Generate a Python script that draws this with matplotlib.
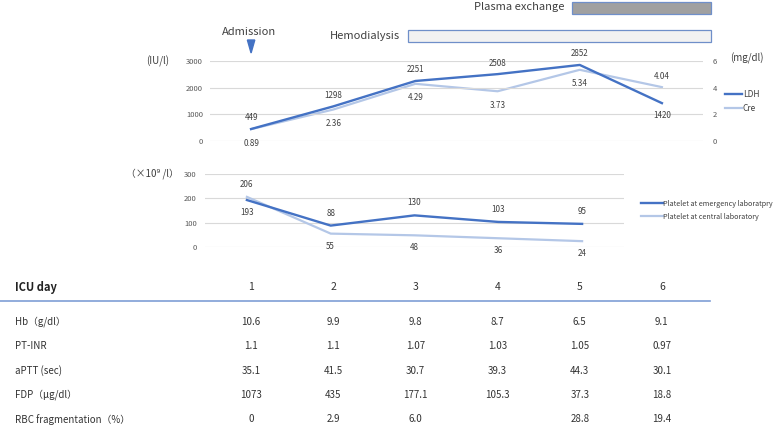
import matplotlib
matplotlib.use('Agg')
import matplotlib.pyplot as plt
import matplotlib.transforms as mtransforms
from matplotlib.patches import Rectangle, Polygon
from matplotlib.lines import Line2D

plt.rcParams['font.family'] = ['Noto Sans CJK JP', 'DejaVu Sans']

# Datos del curso clínico
days = [1, 2, 3, 4, 5, 6]
ldh = [449, 1298, 2251, 2508, 2852, 1420]
cre = [0.89, 2.36, 4.29, 3.73, 5.34, 4.04]

plt_days = [1, 2, 3, 4, 5]
plt_emergency = [193, 88, 130, 103, 95]
plt_central = [206, 55, 48, 36, 24]

admission_day = 1
hemodialysis_start = 3
plasma_start = 5

row_names = ['Hb（g/dl）', 'PT-INR', 'aPTT (sec)', 'FDP（μg/dl）', 'RBC fragmentation（%）']
hb = ['10.6', '9.9', '9.8', '8.7', '6.5', '9.1']
pt_inr = ['1.1', '1.1', '1.07', '1.03', '1.05', '0.97']
aptt = ['35.1', '41.5', '30.7', '39.3', '44.3', '30.1']
fdp = ['1073', '435', '177.1', '105.3', '37.3', '18.8']
rbc_frag = ['0', '2.9', '6.0', '', '28.8', '19.4']
table_rows = [hb, pt_inr, aptt, fdp, rbc_frag]

DARK = '#4472C4'
LIGHT = '#B4C7E7'
GRID = '#D9D9D9'
TICK = '#595959'
TXT = '#404040'

W, H = 778, 425
fig = plt.figure(figsize=(W / 100, H / 100), dpi=100)

def fx(px):
    return px / W

def fy(px):
    return 1 - px / H

def style_axis(a):
    for s in a.spines.values():
        s.set_visible(False)
    a.tick_params(length=0, labelsize=5.5, labelcolor=TICK)

# ---- Grafico superior: LDH y Cre ----
ax = fig.add_axes([fx(210), fy(141), fx(493), (141 - 61) / H])
ax2 = ax.twinx()
ax.set_xlim(0.5, 6.5)
ax.set_ylim(0, 3000)
ax.set_yticks([0, 1000, 2000, 3000])
ax2.set_ylim(0, 6)
ax2.set_yticks([0, 2, 4, 6])
ax.set_xticks([])
ax.yaxis.grid(True, color=GRID, lw=0.8)
ax.set_axisbelow(True)
style_axis(ax)
style_axis(ax2)
ax.tick_params(axis='y', pad=5)
ax2.tick_params(axis='y', pad=7)

ax2.plot(days, cre, color=LIGHT, lw=1.6, label='Cre')
l1, = ax.plot(days, ldh, color=DARK, lw=1.7, label='LDH')
ax.set_zorder(ax2.get_zorder() + 1)
ax.patch.set_visible(False)

for i, (d, v) in enumerate(zip(days, ldh)):
    off = -9 if i == len(days) - 1 else 8
    ax.annotate(str(v), (d, v), xytext=(0, off), textcoords='offset points',
                ha='center', va='center', fontsize=5.8, color=TXT)
for i, (d, v) in enumerate(zip(days, cre)):
    off = 8 if i == len(days) - 1 else -10
    ax2.annotate('%.2f' % v, (d, v), xytext=(0, off), textcoords='offset points',
                 ha='center', va='center', fontsize=5.8, color=TXT)

fig.text(fx(158), fy(61), '(IU/l)', ha='center', va='center', fontsize=7, color=TXT)
fig.text(fx(730), fy(58), '(mg/dl)', ha='left', va='center', fontsize=7, color=TXT)

h2 = Line2D([], [], color=LIGHT, lw=1.6)
fig.legend([l1, h2], ['LDH', 'Cre'], loc='upper left', bbox_to_anchor=(fx(722), fy(87)),
           frameon=False, fontsize=6, handlelength=2.0, handletextpad=0.1,
           labelspacing=0.55, borderaxespad=0, labelcolor=TXT)

# ---- Admision y tratamientos ----
tr = mtransforms.blended_transform_factory(ax.transData, fig.transFigure)
tri = Polygon([(admission_day - 0.045, fy(40)), (admission_day + 0.045, fy(40)),
               (admission_day, fy(53))], closed=True, color=DARK,
              transform=tr, clip_on=False)
ax.add_patch(tri)
ax.text(admission_day - 0.03, fy(32), 'Admission', transform=tr, ha='center',
        va='center', fontsize=8, color=TXT)

bar_end = 6.6
hd = Rectangle((hemodialysis_start - 0.09, fy(42)), bar_end - (hemodialysis_start - 0.09),
               12 / H, facecolor='#F2F2F2', edgecolor='#6F8FC9', lw=0.9,
               transform=tr, clip_on=False)
ax.add_patch(hd)
ax.text(hemodialysis_start - 0.19, fy(36), 'Hemodialysis', transform=tr, ha='right',
        va='center', fontsize=8, color=TXT)
pe = Rectangle((plasma_start - 0.09, fy(14)), bar_end - (plasma_start - 0.09),
               12 / H, facecolor='#A0A0A0', edgecolor='#6F8FC9', lw=0.9,
               transform=tr, clip_on=False)
ax.add_patch(pe)
ax.text(plasma_start - 0.19, fy(7), 'Plasma exchange', transform=tr, ha='right',
        va='center', fontsize=8, color=TXT)

# ---- Grafico inferior: plaquetas ----
bx = fig.add_axes([fx(205), fy(247), fx(419), (247 - 174) / H])
bx.set_xlim(0.5, 5.5)
bx.set_ylim(0, 300)
bx.set_yticks([0, 100, 200, 300])
bx.set_xticks([])
bx.yaxis.grid(True, color=GRID, lw=0.8)
bx.set_axisbelow(True)
style_axis(bx)
bx.tick_params(axis='y', pad=6)

bx.plot(plt_days, plt_central, color=LIGHT, lw=1.6, label='Platelet at central laboratory')
bx.plot(plt_days, plt_emergency, color=DARK, lw=1.7, label='Platelet at emergency laboratpry')

for i, d in enumerate(plt_days):
    e, c = plt_emergency[i], plt_central[i]
    if i == 0:
        eo, co = -9, 9
    else:
        eo, co = 9, -9
    bx.annotate(str(e), (d, e), xytext=(0, eo), textcoords='offset points',
                ha='center', va='center', fontsize=5.8, color=TXT)
    bx.annotate(str(c), (d, c), xytext=(0, co), textcoords='offset points',
                ha='center', va='center', fontsize=5.8, color=TXT)

fig.text(fx(152), fy(174), '（×10⁹ /l）', ha='center', va='center', fontsize=7, color=TXT)

hs, ls = bx.get_legend_handles_labels()
fig.legend(hs[::-1], ls[::-1], loc='upper left', bbox_to_anchor=(fx(638), fy(197)),
           frameon=False, fontsize=5.2, handlelength=3.0, handletextpad=0.05,
           labelspacing=0.7, borderaxespad=0, labelcolor=TXT)

# ---- Tabla de laboratorio ----
fig.text(fx(15), fy(287), 'ICU day', ha='left', va='center', fontsize=8,
         fontweight='bold', color='#222222')
for d in days:
    ax.text(d, fy(287), str(d), transform=tr, ha='center', va='center',
            fontsize=7.5, color='#333333')
fig.add_artist(Line2D([0, fx(710)], [fy(301), fy(301)], color='#7F9ED6', lw=1.2))

for r, (name, vals) in enumerate(zip(row_names, table_rows)):
    yy = fy(322 + 24.3 * r)
    fig.text(fx(15), yy, name, ha='left', va='center', fontsize=7, color='#333333')
    for d, v in zip(days, vals):
        ax.text(d, yy, v, transform=tr, ha='center', va='center',
                fontsize=7, color='#333333')

fig.savefig('out.png', dpi=100)
